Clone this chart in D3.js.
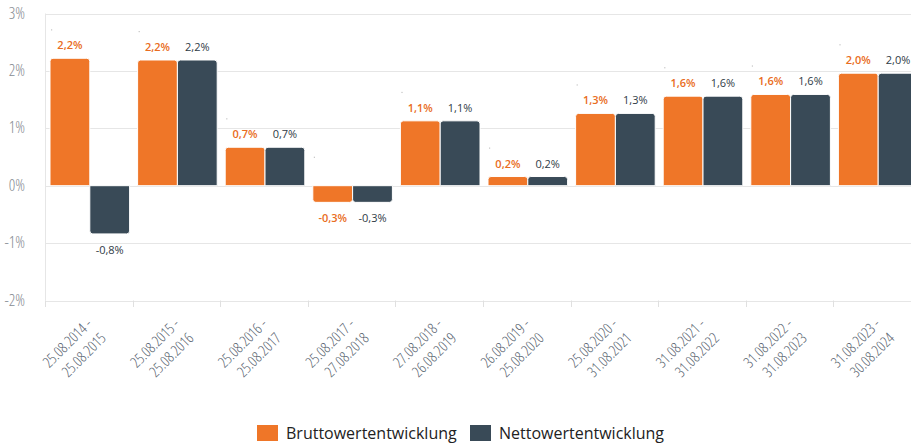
<!DOCTYPE html>
<html>
<head>
<meta charset="utf-8">
<script src="https://cdn.jsdelivr.net/npm/d3@7"></script>
<style>
  body { margin: 0; background: #fff; }
  svg { display: block; }
  .cond { font-family: 'Open Sans', sans-serif; font-stretch: 75%; font-weight: 300; }
</style>
</head>
<body>
<svg id="chart"></svg>
<script>
// Period labels (start / end of each year)
let periodStart = ['25.08.2014', '25.08.2015', '25.08.2016', '25.08.2017', '27.08.2018',
                   '26.08.2019', '25.08.2020', '31.08.2021', '31.08.2022', '31.08.2023'];
let periodEnd = ['25.08.2015', '25.08.2016', '25.08.2017', '27.08.2018', '26.08.2019',
                 '25.08.2020', '31.08.2021', '31.08.2022', '31.08.2023', '30.08.2024'];

// Series values in percent
let brutto = [2.22, 2.19, 0.67, -0.29, 1.13, 0.16, 1.26, 1.56, 1.59, 1.96];
let netto = [-0.84, 2.19, 0.67, -0.29, 1.13, 0.16, 1.26, 1.56, 1.59, 1.96];

let seriesNames = ['Bruttowertentwicklung', 'Nettowertentwicklung'];
let yTicks = [-2, -1, 0, 1, 2, 3];

let width = 911;
let height = 445;
let colors = ['#ef7628', '#394a57'];
let labelColors = ['#e96c22', '#2f3b46'];
let labelWeights = [600, 400];

let locale = d3.formatLocale({ decimal: ',', thousands: '.', grouping: [3], currency: ['', '€'], minus: '-' });
let fmt = locale.format('.1f');
let tickFmt = locale.format('d');

let svg = d3.select('#chart').attr('width', width).attr('height', height);

// Scales
let xScale = d3.scaleBand()
    .domain(d3.range(periodStart.length))
    .range([45, 921]);

let xInner = d3.scaleBand()
    .domain([0, 1])
    .range([5, xScale.bandwidth() - 3])
    .paddingInner(0);

let yScale = d3.scaleLinear()
    .domain([-2, 3])
    .range([300.5, 13.5]);

// Grid lines
svg.append('g')
    .selectAll('line')
    .data(yTicks)
    .enter()
    .append('line')
    .attr('x1', 45)
    .attr('x2', width)
    .attr('y1', (d) => Math.round(yScale(d)) + 0.5)
    .attr('y2', (d) => Math.round(yScale(d)) + 0.5)
    .attr('stroke', '#e6e6e6');

// Left axis line
svg.append('line')
    .attr('x1', 45.5).attr('x2', 45.5)
    .attr('y1', yScale(3)).attr('y2', yScale(-2))
    .attr('stroke', '#e6e6e6');

// Y tick labels
svg.append('g')
    .selectAll('text')
    .data(yTicks)
    .enter()
    .append('text')
    .attr('class', 'cond')
    .attr('x', 25)
    .attr('y', (d) => yScale(d) + 5)
    .attr('text-anchor', 'end')
    .attr('font-size', 16)
    .attr('fill', '#868b92')
    .text((d) => tickFmt(d) + '%');

// Bottom ticks at category borders
let borders = d3.range(periodStart.length + 1).map((i) => 45 + i * xScale.step());
svg.append('g')
    .selectAll('line')
    .data(borders)
    .enter()
    .append('line')
    .attr('x1', (d) => Math.round(d) + 0.5)
    .attr('x2', (d) => Math.round(d) + 0.5)
    .attr('y1', yScale(-2))
    .attr('y2', yScale(-2) + 6.5)
    .attr('stroke', '#e0e0e0');

// Bar path with rounded outer end
let barPath = (x, w, v) => {
    let y0 = yScale(0);
    let y1 = yScale(v);
    let r = Math.min(3, Math.abs(y1 - y0));
    if (v >= 0) {
        return 'M' + x + ',' + y0 + 'V' + (y1 + r) + 'Q' + x + ',' + y1 + ' ' + (x + r) + ',' + y1 +
            'H' + (x + w - r) + 'Q' + (x + w) + ',' + y1 + ' ' + (x + w) + ',' + (y1 + r) + 'V' + y0 + 'Z';
    }
    return 'M' + x + ',' + y0 + 'V' + (y1 - r) + 'Q' + x + ',' + y1 + ' ' + (x + r) + ',' + y1 +
        'H' + (x + w - r) + 'Q' + (x + w) + ',' + y1 + ' ' + (x + w) + ',' + (y1 - r) + 'V' + y0 + 'Z';
};

let series = [brutto, netto];

series.forEach((values, s) => {
    let g = svg.append('g');

    g.selectAll('path')
        .data(values)
        .enter()
        .append('path')
        .attr('d', (d, i) => barPath(xScale(i) + xInner(s), xInner.bandwidth(), d))
        .attr('fill', colors[s])
        .attr('stroke', '#fff')
        .attr('stroke-width', 1);

    g.selectAll('text')
        .data(values)
        .enter()
        .append('text')
        .attr('x', (d, i) => xScale(i) + xInner(s) + xInner.bandwidth() / 2)
        .attr('y', (d) => d >= 0 ? yScale(d) - 9 : yScale(d) + 20)
        .attr('text-anchor', 'middle')
        .attr('font-family', "'Open Sans', sans-serif")
        .attr('font-size', 11)
        .attr('font-weight', labelWeights[s])
        .attr('fill', labelColors[s])
        .text((d) => fmt(d) + '%');
});

// small marks above the orange labels
svg.append('g')
    .selectAll('rect')
    .data(brutto)
    .enter()
    .append('rect')
    .attr('x', (d, i) => xScale(i) + xInner(0) + 1)
    .attr('y', (d) => (d >= 0 ? yScale(d) : yScale(0)) - 29)
    .attr('width', 1.2)
    .attr('height', 1.2)
    .attr('fill', '#c4c4c4');

// X labels (two lines, rotated)
let xLabels = svg.append('g')
    .selectAll('text')
    .data(periodStart)
    .enter()
    .append('text')
    .attr('class', 'cond')
    .attr('transform', (d, i) => 'translate(' + (xScale(i) + xScale.bandwidth() / 2 + 4) + ',325) rotate(-45)')
    .attr('text-anchor', 'end')
    .attr('font-size', 15)
    .attr('fill', '#56626e');

xLabels.append('tspan')
    .attr('x', 0)
    .attr('dy', 0)
    .text((d) => d + ' -');

xLabels.append('tspan')
    .attr('x', 0)
    .attr('dy', 20)
    .text((d, i) => periodEnd[i]);

// Legend
let legend = svg.append('g');
let legendX = [257, 470];
seriesNames.forEach((name, s) => {
    legend.append('rect')
        .attr('x', legendX[s])
        .attr('y', 425)
        .attr('width', 21)
        .attr('height', 16)
        .attr('fill', colors[s]);
    legend.append('text')
        .attr('x', legendX[s] + 29)
        .attr('y', 439)
        .attr('font-family', "'Open Sans', sans-serif")
        .attr('font-size', 16)
        .attr('fill', '#222')
        .text(name);
});
</script>
</body>
</html>
